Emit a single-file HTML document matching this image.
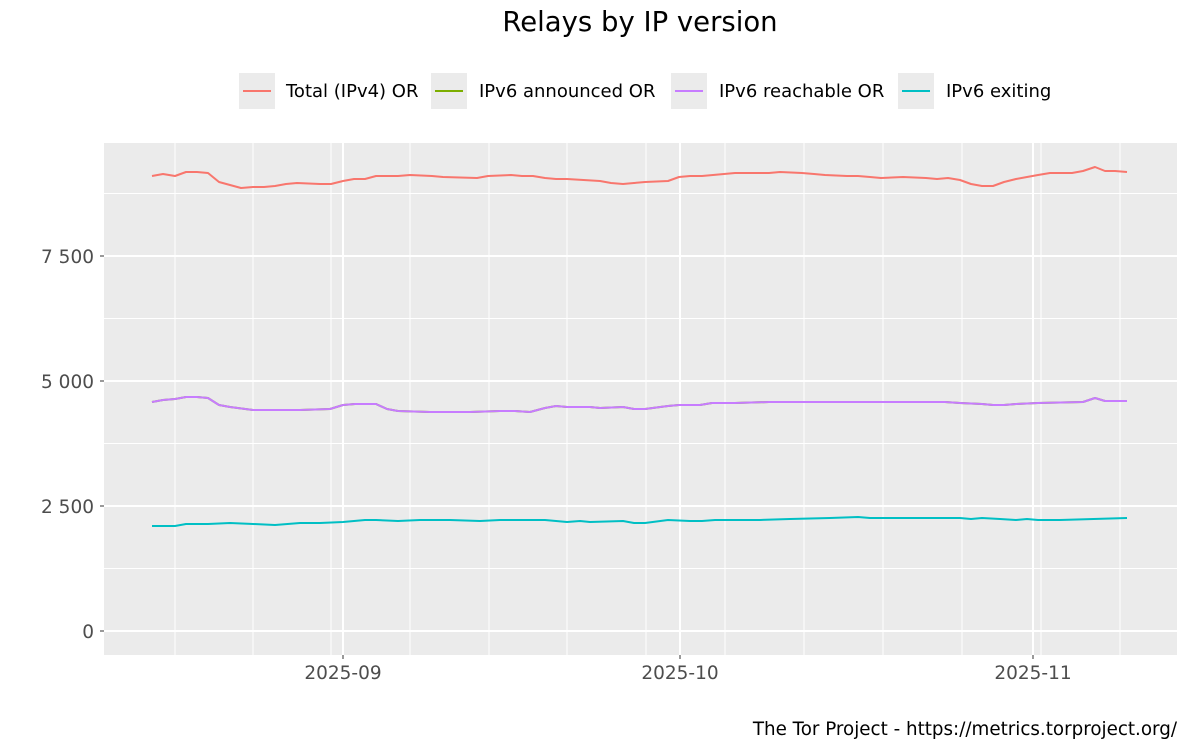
<!DOCTYPE html>
<html><head><meta charset="utf-8"><style>
body{margin:0;background:#fff;}
svg text{font-family:"DejaVu Sans","Liberation Sans",sans-serif;}
</style></head><body>
<svg width="1200" height="750" xmlns="http://www.w3.org/2000/svg">
<rect width="1200" height="750" fill="#fff"/>
<text x="640" y="31" font-size="27.5" text-anchor="middle" fill="#000">Relays by IP version</text>
<!-- legend -->
<g font-size="18" fill="#000">
<rect x="239" y="73" width="36" height="36" fill="#ebebeb"/><line x1="243" y1="91" x2="271" y2="91" stroke="#F8766D" stroke-width="2"/>
<text x="286" y="97">Total (IPv4) OR</text>
<rect x="431" y="73" width="36" height="36" fill="#ebebeb"/><line x1="435" y1="91" x2="463" y2="91" stroke="#7CAE00" stroke-width="2"/>
<text x="479" y="97">IPv6 announced OR</text>
<rect x="671" y="73" width="36" height="36" fill="#ebebeb"/><line x1="675" y1="91" x2="703" y2="91" stroke="#C77CFF" stroke-width="2"/>
<text x="719" y="97">IPv6 reachable OR</text>
<rect x="898" y="73" width="36" height="36" fill="#ebebeb"/><line x1="902" y1="91" x2="930" y2="91" stroke="#00BFC4" stroke-width="2"/>
<text x="946" y="97">IPv6 exiting</text>
</g>
<!-- panel -->
<rect x="104" y="143" width="1073" height="512" fill="#ebebeb"/>
<g stroke="#fff" stroke-width="1">
<line x1="104" x2="1177" y1="568.5" y2="568.5"/><line x1="104" x2="1177" y1="443.5" y2="443.5"/>
<line x1="104" x2="1177" y1="318.5" y2="318.5"/><line x1="104" x2="1177" y1="193.5" y2="193.5"/>
<line y1="143" y2="655" x1="175" x2="175"/><line y1="143" y2="655" x1="253" x2="253"/>
<line y1="143" y2="655" x1="331" x2="331"/><line y1="143" y2="655" x1="410" x2="410"/>
<line y1="143" y2="655" x1="489" x2="489"/><line y1="143" y2="655" x1="567" x2="567"/>
<line y1="143" y2="655" x1="646" x2="646"/><line y1="143" y2="655" x1="725" x2="725"/>
<line y1="143" y2="655" x1="804" x2="804"/><line y1="143" y2="655" x1="883" x2="883"/>
<line y1="143" y2="655" x1="962" x2="962"/><line y1="143" y2="655" x1="1041" x2="1041"/>
<line y1="143" y2="655" x1="1120" x2="1120"/>
</g>
<g stroke="#fff" stroke-width="2">
<line x1="104" x2="1177" y1="631" y2="631"/><line x1="104" x2="1177" y1="506" y2="506"/>
<line x1="104" x2="1177" y1="381" y2="381"/><line x1="104" x2="1177" y1="256" y2="256"/>
<line y1="143" y2="655" x1="343" x2="343"/><line y1="143" y2="655" x1="680" x2="680"/>
<line y1="143" y2="655" x1="1033" x2="1033"/>
</g>
<!-- series -->
<g fill="none" stroke-width="2" stroke-linejoin="round">
<polyline stroke="#F8766D" points="152,176 163,174 175,176 186,172 197,172 208,173 219,182 230,185 241,188 253,187 264,187 275,186 286,184 297,183 320,184 331,184 343,181 354,179 365,179 376,176 398,176 410,175 432,176 443,177 477,178 488,176 511,175 522,176 533,176 545,178 556,179 567,179 600,181 611,183 623,184 634,183 645,182 668,181 679,177 690,176 702,176 724,174 735,173 769,173 780,172 802,173 814,174 825,175 847,176 858,176 870,177 881,178 903,177 926,178 937,179 948,178 960,180 971,184 982,186 993,186 1004,182 1016,179 1027,177 1038,175 1050,173 1072,173 1083,171 1095,167 1105,171 1115,171 1127,172"/>
<polyline stroke="#7CAE00" points="152,402 163,400 175,399 186,397 197,397 208,398 219,405 230,407 253,410 275,410 300,410 330,409 343,405 355,404 376,404 387,409 398,411 430,412 470,412 500,411 515,411 530,412 545,408 556,406 567,407 590,407 600,408 623,407 634,409 645,409 668,406 679,405 700,405 712,403 735,403 769,402 802,402 850,402 870,402 945,402 960,403 982,404 993,405 1004,405 1016,404 1038,403 1083,402 1095,398 1105,401 1127,401"/>
<polyline stroke="#C77CFF" points="152,402 163,400 175,399 186,397 197,397 208,398 219,405 230,407 253,410 275,410 300,410 330,409 343,405 355,404 376,404 387,409 398,411 430,412 470,412 500,411 515,411 530,412 545,408 556,406 567,407 590,407 600,408 623,407 634,409 645,409 668,406 679,405 700,405 712,403 735,403 769,402 802,402 850,402 870,402 945,402 960,403 982,404 993,405 1004,405 1016,404 1038,403 1083,402 1095,398 1105,401 1127,401"/>
<polyline stroke="#00BFC4" points="152,526 175,526 186,524 208,524 230,523 253,524 275,525 300,523 320,523 343,522 365,520 376,520 398,521 420,520 450,520 480,521 500,520 545,520 567,522 580,521 590,522 623,521 634,523 645,523 668,520 690,521 702,521 715,520 760,520 790,519 830,518 858,517 870,518 900,518 940,518 960,518 971,519 982,518 1000,519 1016,520 1027,519 1038,520 1060,520 1127,518"/>
</g>
<!-- axes -->
<g stroke="#333" stroke-width="1">
<line x1="100" x2="104" y1="631" y2="631"/><line x1="100" x2="104" y1="506" y2="506"/>
<line x1="100" x2="104" y1="381" y2="381"/><line x1="100" x2="104" y1="256" y2="256"/>
<line x1="343" x2="343" y1="655" y2="659"/><line x1="680" x2="680" y1="655" y2="659"/>
<line x1="1033" x2="1033" y1="655" y2="659"/>
</g>
<g font-size="18.5" fill="#4d4d4d" text-anchor="end">
<text x="94" y="638">0</text><text x="94" y="513">2 500</text>
<text x="94" y="388">5 000</text><text x="94" y="263">7 500</text>
</g>
<g font-size="18.5" fill="#4d4d4d" text-anchor="middle">
<text x="343" y="679">2025-09</text><text x="680" y="679">2025-10</text><text x="1033" y="679">2025-11</text>
</g>
<text x="1177" y="735" font-size="18.3" text-anchor="end" fill="#000">The Tor Project - https://metrics.torproject.org/</text>
</svg>
</body></html>
